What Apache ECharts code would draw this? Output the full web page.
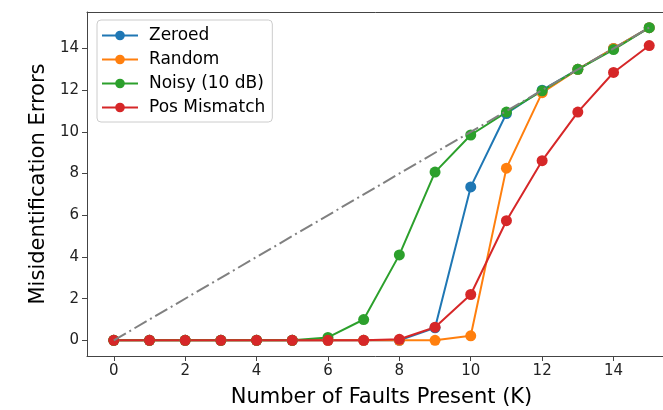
<html lang="en">
<head>
  <meta charset="UTF-8">
  <title>Misidentification Errors</title>
  <style>
    *{ margin: 0; padding: 0; }
    #main{ width: 663px; height: 410px; background: #fff; }
  </style>
</head>
<body>
  <div id="main"></div>
  <script src="https://cdn.jsdelivr.net/npm/echarts@6/dist/echarts.min.js"></script>
  <script type='text/javascript'>
  // data
  var faults = [0, 1, 2, 3, 4, 5, 6, 7, 8, 9, 10, 11, 12, 13, 14, 15]
  var zeroed = [0, 0, 0, 0, 0, 0, 0, 0, 0, 0.6, 7.36, 10.88, 12, 13, 14, 15]
  var random = [0, 0, 0, 0, 0, 0, 0, 0, 0, 0, 0.22, 8.26, 11.88, 13, 14, 15]
  var noisy = [0, 0, 0, 0, 0, 0, 0.14, 1.0, 4.1, 8.07, 9.85, 10.95, 11.97, 13, 13.95, 15]
  var posMismatch = [0, 0, 0, 0, 0, 0, 0, 0, 0.05, 0.63, 2.2, 5.74, 8.62, 10.95, 12.85, 14.14]
  var ideal = [0, 15]
  var xTicks = [0, 2, 4, 6, 8, 10, 12, 14]
  var yTicks = [0, 2, 4, 6, 8, 10, 12, 14]

  function pairs(xs, ys) {
    return ys.map(function (v, i) { return [xs[i], v] })
  }

  var font = 'DejaVu Sans'
  var spine = '#444'
  var myChart = echarts.init(document.getElementById('main'))

  function lineSeries(name, color, values) {
    return {
      name: name,
      type: 'line',
      data: pairs(faults, values),
      symbol: 'circle',
      symbolSize: 11,
      color: color,
      lineStyle: { width: 2, color: color },
      itemStyle: { color: color },
      animation: false
    }
  }

  // plain frame axis (top / right spine), no ticks or labels
  function frameAxis(pos) {
    return {
      type: 'value', position: pos, min: -0.75, max: 15.75,
      axisLine: { show: true, onZero: false, lineStyle: { color: spine } },
      axisTick: { show: false }, axisLabel: { show: false }, splitLine: { show: false }
    }
  }

  var option = {
    animation: false,
    textStyle: { fontFamily: font },
    grid: {
      left: 87, top: 12, width: 589, height: 344,
      outerBoundsMode: 'none'
    },
    legend: {
      orient: 'vertical',
      left: 97,
      top: 20,
      padding: [7, 7, 6, 4],
      itemWidth: 36,
      itemHeight: 12,
      itemGap: 7,
      borderColor: '#ccc',
      borderWidth: 1,
      borderRadius: 4,
      backgroundColor: 'rgba(255,255,255,0.8)',
      textStyle: { fontFamily: font, fontSize: 17, color: '#000', padding: [0, 0, 0, 6] },
      data: ['Zeroed', 'Random', 'Noisy (10 dB)', 'Pos Mismatch']
    },
    xAxis: [{
      type: 'value',
      position: 'bottom',
      min: -0.75,
      max: 15.75,
      name: 'Number of Faults Present (K)',
      nameLocation: 'middle',
      nameGap: 31,
      nameTextStyle: { fontFamily: font, fontSize: 21, color: '#000' },
      splitLine: { show: false },
      axisLine: { show: true, onZero: false, lineStyle: { color: spine } },
      axisTick: { show: true, length: 5, customValues: xTicks, lineStyle: { color: spine } },
      axisLabel: { customValues: xTicks, fontFamily: font, fontSize: 15, color: '#222', margin: 8 }
    }, frameAxis('top')],
    yAxis: [{
      type: 'value',
      position: 'left',
      min: -0.75,
      max: 15.75,
      name: 'Misidentification Errors',
      nameLocation: 'middle',
      nameGap: 36,
      nameTextStyle: { fontFamily: font, fontSize: 21, color: '#000' },
      splitLine: { show: false },
      axisLine: { show: true, onZero: false, lineStyle: { color: spine } },
      axisTick: { show: true, length: 5, customValues: yTicks, lineStyle: { color: spine } },
      axisLabel: { customValues: yTicks, fontFamily: font, fontSize: 15, color: '#222', margin: 8 }
    }, frameAxis('right')],
    series: [
      lineSeries('Zeroed', '#1f77b4', zeroed),
      lineSeries('Random', '#ff7f0e', random),
      lineSeries('Noisy (10 dB)', '#2ca02c', noisy),
      lineSeries('Pos Mismatch', '#d62728', posMismatch),
      {
        name: 'ideal',
        type: 'line',
        data: pairs(ideal, ideal),
        symbol: 'none',
        z: 5,
        lineStyle: { width: 2, color: '#808080', type: [14, 4, 2, 4] },
        animation: false
      }
    ]
  }
  myChart.setOption(option)
  </script>
</body>
</html>
